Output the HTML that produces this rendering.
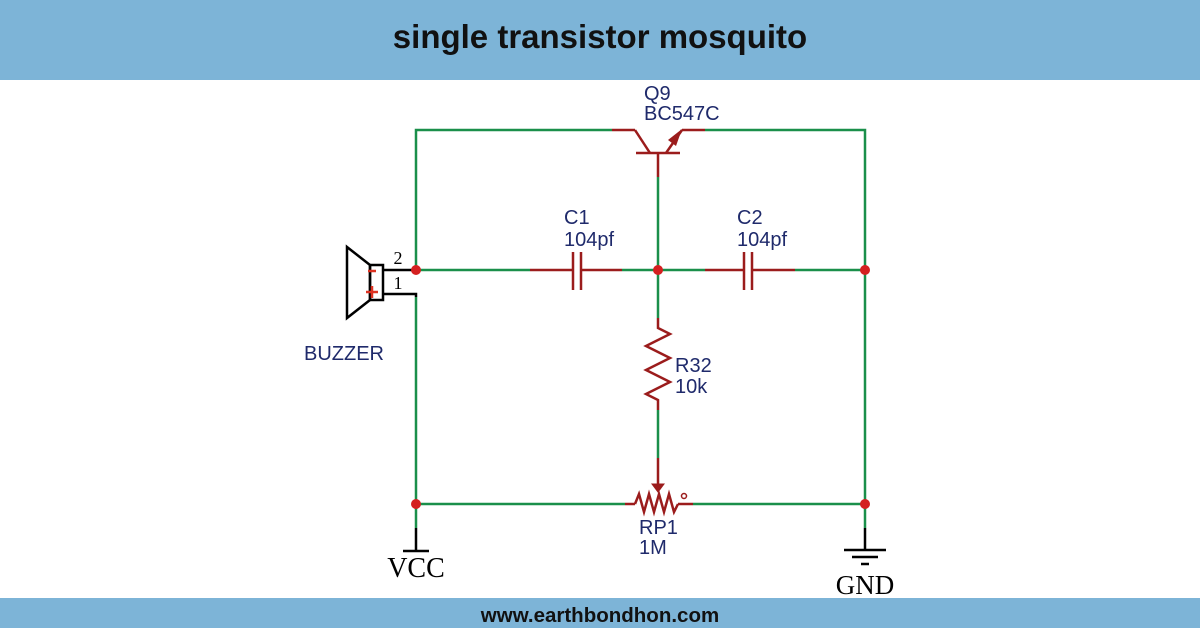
<!DOCTYPE html>
<html><head><meta charset="utf-8"><style>
body{margin:0;width:1200px;height:628px;overflow:hidden;background:#fff;font-family:"Liberation Sans",sans-serif}
</style></head><body>
<svg width="1200" height="628" xmlns="http://www.w3.org/2000/svg">
<rect x="0" y="0" width="1200" height="80" fill="#7db4d7"/>
<rect x="0" y="598" width="1200" height="30" fill="#7db4d7"/>
<text x="600" y="48" text-anchor="middle" font-family="Liberation Sans" font-weight="bold" font-size="33" fill="#111">single transistor mosquito</text>
<text x="600" y="622" text-anchor="middle" font-family="Liberation Sans" font-weight="bold" font-size="20.5" fill="#111">www.earthbondhon.com</text>
<g stroke="#1a8f4a" stroke-width="2.5" fill="none">
<polyline points="416,270 416,130 612,130"/>
<polyline points="705,130 865,130 865,504"/>
<line x1="416" y1="270" x2="530" y2="270"/>
<line x1="622" y1="270" x2="705" y2="270"/>
<line x1="795" y1="270" x2="865" y2="270"/>
<line x1="658" y1="177" x2="658" y2="318"/>
<line x1="658" y1="410" x2="658" y2="458"/>
<line x1="416" y1="297" x2="416" y2="528"/>
<line x1="416" y1="504" x2="625" y2="504"/>
<line x1="693" y1="504" x2="865" y2="504"/>
<line x1="865" y1="504" x2="865" y2="528"/>
</g>
<g stroke="#9b1c1c" stroke-width="2.5" fill="none">
<line x1="612" y1="130" x2="635" y2="130"/>
<line x1="635" y1="130" x2="650" y2="153"/>
<line x1="636" y1="153" x2="680" y2="153"/>
<line x1="658" y1="153" x2="658" y2="177"/>
<line x1="666" y1="153" x2="682" y2="130"/>
<line x1="682" y1="130" x2="705" y2="130"/>
<line x1="530" y1="270" x2="573" y2="270"/>
<line x1="573" y1="252" x2="573" y2="290"/>
<line x1="581" y1="252" x2="581" y2="290"/>
<line x1="581" y1="270" x2="622" y2="270"/>
<line x1="705" y1="270" x2="744" y2="270"/>
<line x1="744" y1="252" x2="744" y2="290"/>
<line x1="752" y1="252" x2="752" y2="290"/>
<line x1="752" y1="270" x2="795" y2="270"/>
<polyline points="658,318 658,328 670,334 646,346 670,358 646,370 670,382 646,394 658,400 658,410"/>
<line x1="658" y1="458" x2="658" y2="484"/>
<line x1="625" y1="504" x2="635" y2="504"/>
<polyline points="635,504 639,494 644,512 649,494 654,512 659,494 664,512 669,494 674,512 678,504"/>
<line x1="678" y1="504" x2="693" y2="504"/>
<circle cx="684" cy="496" r="2.5" stroke-width="1.5"/>
</g>
<polygon points="682,129 668,140 676,146" fill="#9b1c1c"/>
<polygon points="652,484 664,484 658,492" fill="#9b1c1c" stroke="#9b1c1c"/>
<g stroke="#000" stroke-width="2.5" fill="none">
<polygon points="347,247 370,265 370,300 347,318"/>
<rect x="370" y="265" width="13" height="35"/>
<line x1="383" y1="270" x2="416" y2="270"/>
<polyline points="383,294 416,294 416,297"/>
<line x1="416" y1="528" x2="416" y2="551"/>
<line x1="403" y1="551" x2="429" y2="551"/>
<line x1="865" y1="528" x2="865" y2="550"/>
<line x1="844" y1="550" x2="886" y2="550"/>
<line x1="852" y1="557" x2="878" y2="557"/>
<line x1="861" y1="564" x2="869" y2="564"/>
</g>
<line x1="368" y1="271" x2="376" y2="271" stroke="#d32" stroke-width="2.5"/>
<line x1="366" y1="292" x2="378" y2="292" stroke="#d32" stroke-width="2.5"/>
<line x1="372" y1="286" x2="372" y2="298" stroke="#d32" stroke-width="2.5"/>
<text x="398" y="264" font-family="Liberation Serif" font-size="18" fill="#000" text-anchor="middle">2</text>
<text x="398" y="289" font-family="Liberation Serif" font-size="18" fill="#000" text-anchor="middle">1</text>
<g fill="#d42020">
<circle cx="416" cy="270" r="5"/><circle cx="658" cy="270" r="5"/><circle cx="865" cy="270" r="5"/>
<circle cx="416" cy="504" r="5"/><circle cx="865" cy="504" r="5"/>
</g>
<g font-family="Liberation Sans" font-size="20" fill="#1f2a6b">
<text x="644" y="100">Q9</text>
<text x="644" y="120">BC547C</text>
<text x="564" y="224">C1</text>
<text x="564" y="246">104pf</text>
<text x="737" y="224">C2</text>
<text x="737" y="246">104pf</text>
<text x="675" y="372">R32</text>
<text x="675" y="393">10k</text>
<text x="639" y="534">RP1</text>
<text x="639" y="554">1M</text>
<text x="304" y="360">BUZZER</text>
</g>
<text x="416" y="577" font-family="Liberation Serif" font-size="28" fill="#000" text-anchor="middle">VCC</text>
<text x="865" y="594" font-family="Liberation Serif" font-size="27" fill="#000" text-anchor="middle">GND</text>
</svg>
</body></html>
